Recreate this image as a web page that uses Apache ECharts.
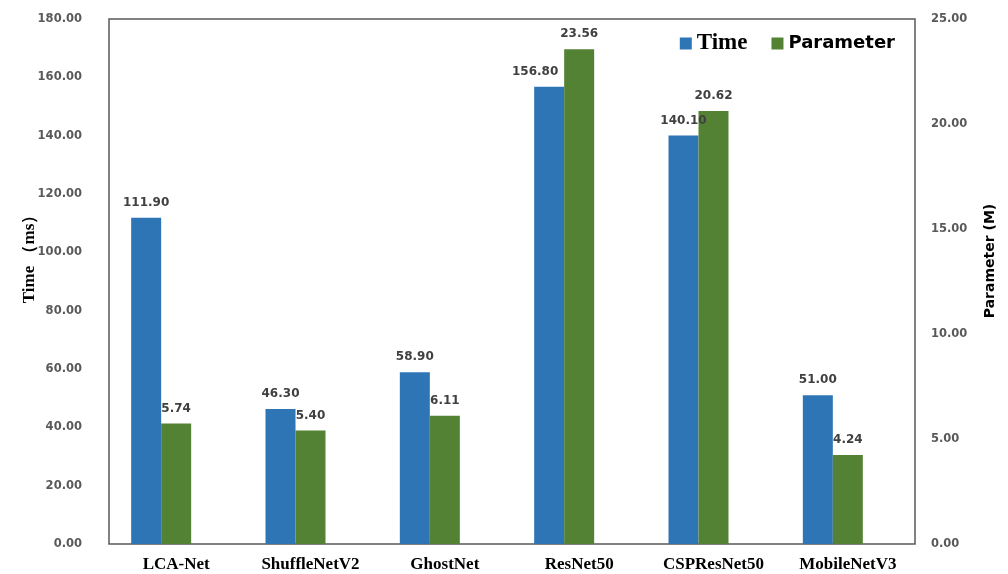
<!DOCTYPE html>
<html>
<head>
<meta charset="utf-8">
<script src="https://cdn.jsdelivr.net/npm/echarts@6/dist/echarts.min.js"></script>
<style>
  html, body { margin: 0; padding: 0; background: #fff; }
  #chart { width: 1008px; height: 574px; }
</style>
</head>
<body>
<div id="chart"></div>
<script>
// Inference time and parameter count per network
const models = ['LCA-Net', 'ShuffleNetV2', 'GhostNet', 'ResNet50', 'CSPResNet50', 'MobileNetV3'];
const timeMs = [111.90, 46.30, 58.90, 156.80, 140.10, 51.00];
const paramsM = [5.74, 5.40, 6.11, 23.56, 20.62, 4.24];
const timeTicks = { min: 0, max: 180, step: 20 };
const paramTicks = { min: 0, max: 25, step: 5 };

const BLUE = '#2E75B6';
const GREEN = '#548235';
const LABEL_GRAY = '#595959';
const VALUE_GRAY = '#404040';
const SANS = 'DejaVu Sans';
const SERIF = 'Liberation Serif';

// labels nudged sideways so they stay clear of the taller neighbouring bar
const timeLabelShift = { 3: [-14, 0] };

const chart = echarts.init(document.getElementById('chart'));

const valueLabel = {
  show: true,
  position: 'top',
  distance: 9,
  color: VALUE_GRAY,
  fontFamily: SANS,
  fontWeight: 'bold',
  fontSize: 12,
  formatter: p => Number(p.value).toFixed(2)
};

const axisLabelStyle = {
  color: LABEL_GRAY,
  fontFamily: SANS,
  fontWeight: 'bold',
  fontSize: 11.5,
  formatter: v => v.toFixed(2)
};

const timeData = timeMs.map((v, i) =>
  timeLabelShift[i] ? { value: v, label: { offset: timeLabelShift[i] } } : v
);

chart.setOption({
  animation: false,
  backgroundColor: '#fff',
  grid: {
    left: 109, right: 93, top: 19, bottom: 30,
    show: true,
    borderColor: '#595959',
    borderWidth: 1.5,
    containLabel: false
  },
  legend: {
    data: ['Time', 'Parameter'],
    right: 108,
    top: 27,
    itemWidth: 12,
    itemHeight: 12,
    itemGap: 24,
    icon: 'rect',
    formatter: name => name === 'Time' ? '{t|' + name + '}' : '{p|' + name + '}',
    textStyle: {
      rich: {
        t: { fontFamily: SERIF, fontWeight: 'bold', fontSize: 23, color: '#000' },
        p: { fontFamily: SANS, fontWeight: 'bold', fontSize: 18, color: '#000' }
      }
    }
  },
  graphic: [
    {
      type: 'text',
      x: 30, y: 255,
      rotation: Math.PI / 2,
      style: {
        text: 'Time （ms）',
        fill: '#000',
        font: 'bold 17px "Liberation Serif"',
        align: 'center',
        verticalAlign: 'middle'
      }
    },
    {
      type: 'text',
      x: 990, y: 261,
      rotation: Math.PI / 2,
      style: {
        text: 'Parameter (M)',
        fill: '#000',
        font: 'bold 14px "DejaVu Sans"',
        align: 'center',
        verticalAlign: 'middle'
      }
    }
  ],
  xAxis: {
    type: 'category',
    data: models,
    axisTick: { show: false },
    axisLine: { show: false },
    axisLabel: {
      color: '#000',
      fontFamily: SERIF,
      fontWeight: 'bold',
      fontSize: 17,
      margin: 12
    }
  },
  yAxis: [
    {
      type: 'value',
      min: timeTicks.min,
      max: timeTicks.max,
      interval: timeTicks.step,
      splitLine: { show: false },
      axisLine: { show: false },
      axisTick: { show: false },
      axisLabel: Object.assign({ margin: 27 }, axisLabelStyle)
    },
    {
      type: 'value',
      min: paramTicks.min,
      max: paramTicks.max,
      interval: paramTicks.step,
      splitLine: { show: false },
      axisLine: { show: false },
      axisTick: { show: false },
      axisLabel: Object.assign({ margin: 16 }, axisLabelStyle)
    }
  ],
  series: [
    {
      name: 'Time',
      type: 'bar',
      yAxisIndex: 0,
      data: timeData,
      barWidth: 30,
      barGap: '0%',
      itemStyle: { color: BLUE },
      label: valueLabel
    },
    {
      name: 'Parameter',
      type: 'bar',
      yAxisIndex: 1,
      data: paramsM,
      barWidth: 30,
      barGap: '0%',
      itemStyle: { color: GREEN },
      label: valueLabel
    },
    {
      // empty slot that keeps each bar pair left of the category centre
      name: 'spacer',
      type: 'bar',
      yAxisIndex: 0,
      data: models.map(() => '-'),
      barWidth: 30,
      barGap: '0%',
      silent: true,
      itemStyle: { color: 'transparent' }
    }
  ]
});
</script>
</body>
</html>
